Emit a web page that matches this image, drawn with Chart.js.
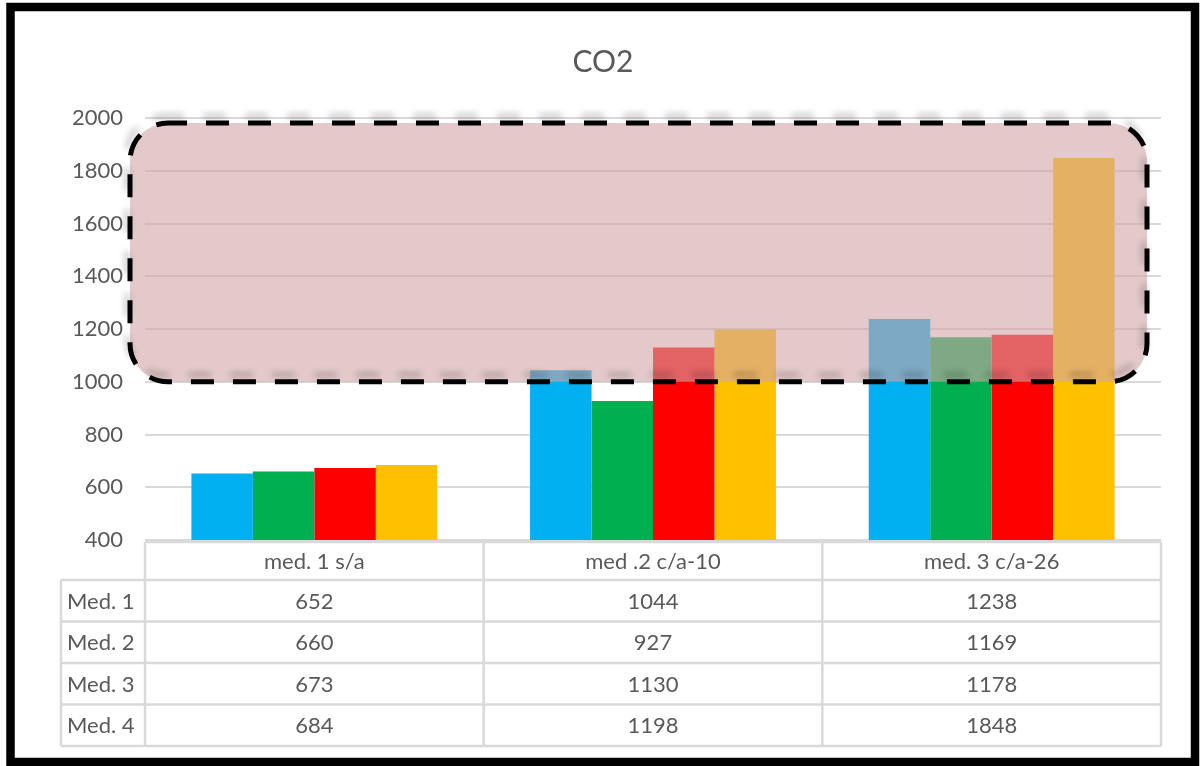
<!DOCTYPE html>
<html>
<head>
<meta charset="utf-8">
<title>CO2</title>
<script src="https://cdn.jsdelivr.net/npm/chart.js@4/dist/chart.umd.min.js"></script>
<style>
  html, body { margin: 0; padding: 0; background: #fff; }
  canvas { display: block; background: #fff; }
</style>
</head>
<body>
<canvas id="co2Chart" width="1200" height="766"></canvas>
<script>
const categories = ["med. 1 s/a", "med .2 c/a-10", "med. 3 c/a-26"];
const seriesNames = ["Med. 1", "Med. 2", "Med. 3", "Med. 4"];
const med1 = [652, 1044, 1238];
const med2 = [660, 927, 1169];
const med3 = [673, 1130, 1178];
const med4 = [684, 1198, 1848];
const seriesColors = ["#00B0F0", "#00B050", "#FF0000", "#FFC000"];
const yMin = 400;
const yMax = 2000;
const yStep = 200;
// band highlighted with the dashed box
const bandFrom = 1000;
const bandTo = 2000;

const seriesValues = [med1, med2, med3, med4];
const textColor = "#595959";
const lineColor = "#D9D9D9";
const fontFamily = "Lato, 'Open Sans', sans-serif";

function roundRect(ctx, x, y, w, h, r) {
  ctx.beginPath();
  ctx.moveTo(x + r, y);
  ctx.lineTo(x + w - r, y);
  ctx.arcTo(x + w, y, x + w, y + r, r);
  ctx.lineTo(x + w, y + h - r);
  ctx.arcTo(x + w, y + h, x + w - r, y + h, r);
  ctx.lineTo(x + r, y + h);
  ctx.arcTo(x, y + h, x, y + h - r, r);
  ctx.lineTo(x, y + r);
  ctx.arcTo(x, y, x + r, y, r);
  ctx.closePath();
}

const extrasPlugin = {
  id: "extras",
  afterDraw(chart) {
    const ctx = chart.ctx;
    const area = chart.chartArea;
    const yScale = chart.scales.y;

    // shaded band with dashed rounded outline
    const top = yScale.getPixelForValue(bandTo) + 5;
    const bottom = yScale.getPixelForValue(bandFrom);
    const left = area.left - 15;
    const right = area.right - 14;
    ctx.save();
    roundRect(ctx, left, top, right - left, bottom - top, 38);
    ctx.fillStyle = "rgba(210,165,166,0.6)";
    ctx.fill();
    ctx.setLineDash([23, 19]);
    ctx.lineDashOffset = 4;
    ctx.lineWidth = 5;
    ctx.strokeStyle = "#000";
    ctx.shadowColor = "rgba(0,0,0,0.22)";
    ctx.shadowBlur = 6;
    ctx.shadowOffsetX = -3;
    ctx.shadowOffsetY = -7;
    ctx.stroke();
    ctx.restore();

    // data table under the plot
    const colW = (area.right - area.left) / categories.length;
    const headTop = area.bottom + 2;
    const headH = 38;
    const rowH = 41.5;
    const labelLeft = 61;
    const tableBottom = headTop + headH + rowH * seriesNames.length;
    ctx.save();
    ctx.strokeStyle = lineColor;
    ctx.lineWidth = 2.5;
    ctx.beginPath();
    // header row
    ctx.moveTo(area.left, headTop);
    ctx.lineTo(area.right, headTop);
    for (let i = 0; i <= seriesNames.length; i++) {
      const y = headTop + headH + i * rowH;
      ctx.moveTo(labelLeft, y);
      ctx.lineTo(area.right, y);
    }
    for (let c = 0; c <= categories.length; c++) {
      const x = area.left + c * colW;
      ctx.moveTo(x, headTop);
      ctx.lineTo(x, tableBottom);
    }
    ctx.moveTo(labelLeft, headTop + headH);
    ctx.lineTo(labelLeft, tableBottom);
    ctx.stroke();

    ctx.fillStyle = textColor;
    ctx.font = "22px " + fontFamily;
    ctx.textBaseline = "middle";
    ctx.textAlign = "center";
    categories.forEach((cat, c) => {
      ctx.fillText(cat, area.left + (c + 0.5) * colW, headTop + headH / 2 + 1);
    });
    seriesNames.forEach((name, r) => {
      const cy = headTop + headH + (r + 0.5) * rowH + 1;
      ctx.textAlign = "left";
      ctx.fillText(name, labelLeft + 6, cy);
      ctx.textAlign = "center";
      seriesValues[r].forEach((v, c) => {
        ctx.fillText(String(v), area.left + (c + 0.5) * colW, cy);
      });
    });
    ctx.restore();

    // title
    ctx.save();
    ctx.fillStyle = textColor;
    ctx.font = "30px " + fontFamily;
    ctx.textAlign = "center";
    ctx.textBaseline = "middle";
    ctx.fillText("CO2", chart.width / 2 + 3, 62);
    ctx.restore();

    // outer frame
    ctx.save();
    ctx.strokeStyle = "#000";
    ctx.lineWidth = 8.5;
    ctx.strokeRect(10.5, 7, 1184.5, 755);
    ctx.restore();
  },
};

const ctx = document.getElementById("co2Chart").getContext("2d");
new Chart(ctx, {
  type: "bar",
  data: {
    labels: categories,
    datasets: seriesNames.map((name, i) => ({
      label: name,
      data: seriesValues[i],
      backgroundColor: seriesColors[i],
      borderWidth: 0,
      categoryPercentage: 0.726,
      barPercentage: 1.0,
    })),
  },
  options: {
    responsive: false,
    animation: false,
    layout: { padding: { top: 118, right: 39, bottom: 0, left: 0 } },
    plugins: {
      legend: { display: false },
      title: { display: false },
      tooltip: { enabled: false },
    },
    scales: {
      x: {
        grid: { display: false },
        border: { display: false },
        ticks: { display: false },
        afterFit: (scale) => { scale.height = 226; },
      },
      y: {
        min: yMin,
        max: yMax,
        border: { display: false },
        grid: { color: lineColor, lineWidth: 2, drawTicks: false },
        ticks: {
          stepSize: yStep,
          color: textColor,
          padding: 22,
          font: { family: fontFamily, size: 22 },
          callback: (value) => String(value),
        },
        afterFit: (scale) => { scale.width = 145; },
      },
    },
  },
  plugins: [extrasPlugin],
});
</script>
</body>
</html>
